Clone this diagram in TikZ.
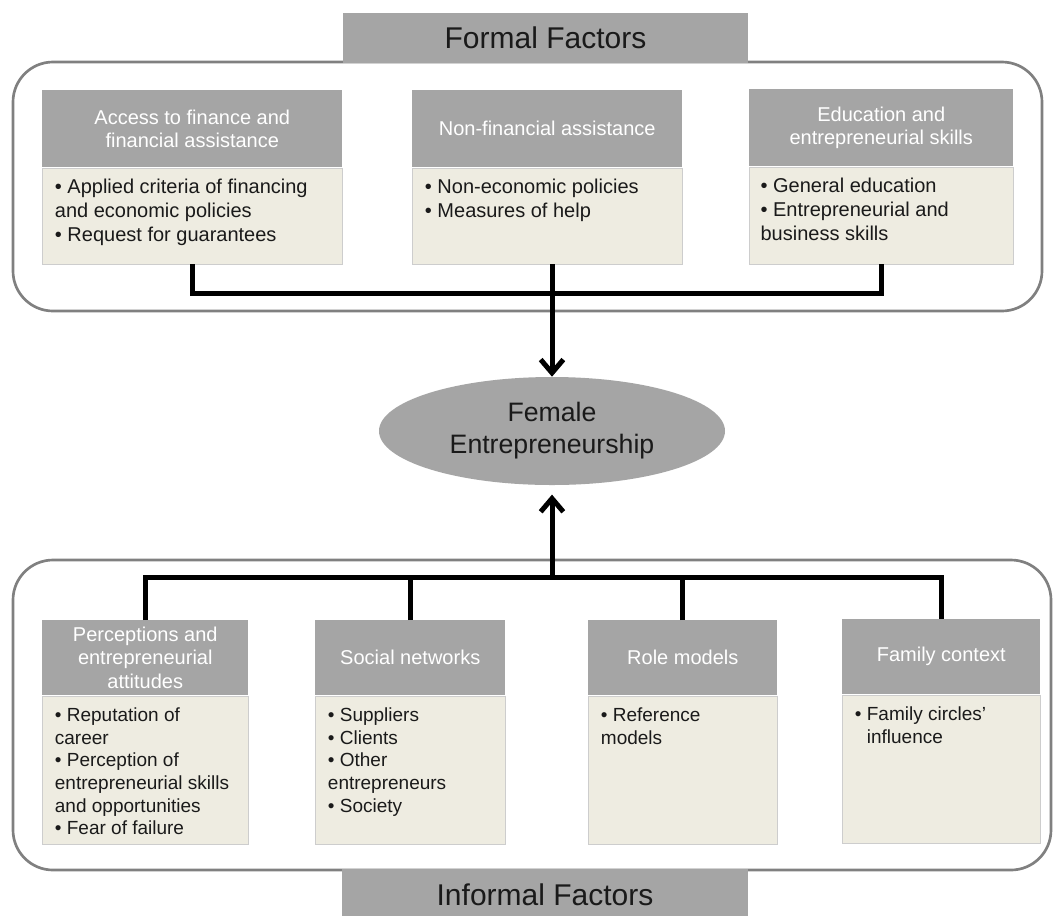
\documentclass[tikz,border=0pt]{standalone}
\usepackage{fontspec}
\setmainfont{Liberation Sans}
\usetikzlibrary{arrows.meta,shapes.geometric}
\definecolor{hdr}{HTML}{A5A5A5}
\definecolor{tanfill}{HTML}{EEECE1}
\definecolor{framegray}{HTML}{808080}
\definecolor{txt}{HTML}{1A1A1A}
\definecolor{bdr}{HTML}{CDCDCD}
\tikzset{
 outerframe/.style={draw=framegray, line width=2pt, rounded corners=30pt},
 tabbox/.style={fill=hdr, draw=none, inner sep=0pt, text=txt, font=\fontsize{22.5}{27}\selectfont},
 hdrbox/.style={fill=hdr, draw=none, text=white, align=center, inner sep=0pt, anchor=north west, font=\fontsize{15}{17.5}\selectfont},
 bodybox/.style={fill=tanfill, draw=bdr, line width=0.6pt, anchor=north west, inner sep=0pt},
 bodytxt/.style={anchor=north west, align=left, inner sep=0pt, text=txt},
 toptxt/.style={bodytxt, font=\fontsize{15}{18}\selectfont},
 bottxt/.style={bodytxt, font=\fontsize{14.25}{17}\selectfont},
 conn/.style={line width=3.75pt, draw=black},
 arr/.style={conn, -{Straight Barb[length=10pt,width=17pt]}},
}
\begin{document}
\begin{tikzpicture}[x=0.75pt,y=-0.75pt]
\useasboundingbox (0,0) rectangle (1060,915);
\fill[white] (0,0) rectangle (1060,915);
% frames
\draw[outerframe] (13,62) rectangle (1042,311);
\draw[outerframe] (13,560) rectangle (1051,870);
% tabs
\node[tabbox, minimum width=303.75pt, minimum height=37.5pt] (ff) at (545.5,38) {Formal Factors};
\node[tabbox, minimum width=304.5pt, minimum height=39pt] (inf) at (545,895) {Informal Factors};
% top boxes
\node[hdrbox, minimum width=225pt, minimum height=57.75pt] (b1h) at (42,90) {Access to finance and\\financial assistance};
\node[bodybox, minimum width=225pt, minimum height=72pt] (b1b) at (b1h.south west) {};
\node[toptxt] (b1t) at ([shift={(9.5pt,-8.5pt)}]b1b.north west) {• Applied criteria of financing\\and economic policies\\• Request for guarantees};
\node[hdrbox, minimum width=202.5pt, minimum height=57.75pt] (b2h) at (412,90) {Non-financial assistance};
\node[bodybox, minimum width=202.5pt, minimum height=72pt] (b2b) at (b2h.south west) {};
\node[toptxt] (b2t) at ([shift={(9.5pt,-8.5pt)}]b2b.north west) {• Non-economic policies\\• Measures of help};
\node[hdrbox, minimum width=198pt, minimum height=57.75pt] (b3h) at (749,89) {Education and\\entrepreneurial skills};
\node[bodybox, minimum width=198pt, minimum height=72.75pt] (b3b) at (b3h.south west) {};
\node[toptxt] (b3t) at ([shift={(8.5pt,-8.5pt)}]b3b.north west) {• General education\\• Entrepreneurial and\\business skills};
% ellipse
\node[ellipse, fill=hdr, draw=none, minimum width=259.5pt, minimum height=81pt, inner sep=0pt, align=center, text=txt, font=\fontsize{20}{24}\selectfont] (fe) at (552,431) {Female\\Entrepreneurship};
% bottom boxes
\node[hdrbox, minimum width=154.5pt, minimum height=56.25pt] (c1h) at (42,620) {Perceptions and\\entrepreneurial\\attitudes};
\node[bodybox, minimum width=154.5pt, minimum height=111pt] (c1b) at (c1h.south west) {};
\node[bottxt] (c1t) at ([shift={(9.5pt,-9pt)}]c1b.north west) {• Reputation of\\career\\• Perception of\\entrepreneurial skills\\and opportunities\\• Fear of failure};
\node[hdrbox, minimum width=142.5pt, minimum height=56.25pt] (c2h) at (315,620) {Social networks};
\node[bodybox, minimum width=142.5pt, minimum height=111pt] (c2b) at (c2h.south west) {};
\node[bottxt] (c2t) at ([shift={(9.5pt,-9pt)}]c2b.north west) {• Suppliers\\• Clients\\• Other\\entrepreneurs\\• Society};
\node[hdrbox, minimum width=141.75pt, minimum height=56.25pt] (c3h) at (588,620) {Role models};
\node[bodybox, minimum width=141.75pt, minimum height=111pt] (c3b) at (c3h.south west) {};
\node[bottxt] (c3t) at ([shift={(9.5pt,-9pt)}]c3b.north west) {• Reference\\models};
\node[hdrbox, minimum width=148.5pt, minimum height=56.25pt] (c4h) at (842,619) {Family context};
\node[bodybox, minimum width=148.5pt, minimum height=111pt] (c4b) at (c4h.south west) {};
\node[bottxt] (c4t) at ([shift={(9.5pt,-9pt)}]c4b.north west) {• Family circles'\\\phantom{• }influence};
% connectors top
\coordinate (tj) at (551,293);
\draw[conn] (b1b.south) |- (tj) -| (b3b.south);
\draw[arr] (fe.north |- b2b.south) -- (fe.north);
% connectors bottom
\coordinate (bj) at (550,577);
\draw[conn] (c1h.north) |- (bj) -| (c4h.north);
\draw[conn] (c2h.north) -- (c2h.north |- bj);
\draw[conn] (c3h.north) -- (c3h.north |- bj);
\draw[arr] (fe.south |- bj) -- ([yshift=-7pt]fe.south);
\end{tikzpicture}
\end{document}
